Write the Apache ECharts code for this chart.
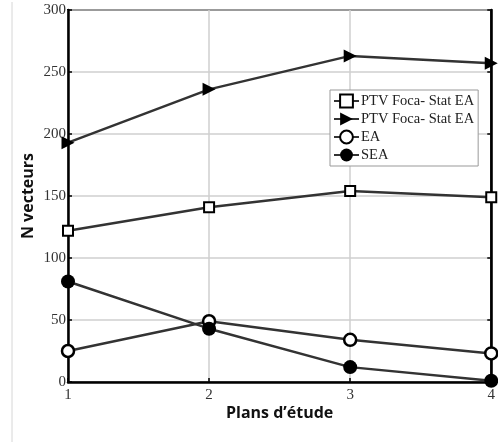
<!DOCTYPE html>
<html>
<head>
<meta charset="utf-8">
<script src="https://cdn.jsdelivr.net/npm/echarts@6/dist/echarts.min.js"></script>
<style>html,body{margin:0;padding:0;background:#fff;}#c{width:498px;height:442px;}</style>
</head>
<body>
<div id="c"></div>
<script>
const plans = [1, 2, 3, 4];
const ptvSquare = [122, 141, 154, 149];
const ptvTriangle = [193, 236, 263, 257];
const eaValues = [25, 49, 34, 23];
const seaValues = [81, 43, 12, 1];
const seriesNames = ['PTV Foca- Stat EA', 'PTV Foca- Stat EA ', 'EA', 'SEA'];
const yTicks = [0, 50, 100, 150, 200, 250, 300];

const serif = '"Liberation Serif", "Times New Roman", serif';
const toPairs = arr => plans.map((x, i) => [x, arr[i]]);
const lineStyle = { color: '#333', width: 2.5 };

const chart = echarts.init(document.getElementById('c'), null, { renderer: 'canvas' });
chart.setOption({
  animation: false,
  backgroundColor: '#fff',
  graphic: [{
    type: 'line', shape: { x1: 12, y1: 2, x2: 12, y2: 442 },
    style: { stroke: '#d6d6d6', lineWidth: 1 }, z: -1
  }],
  grid: { left: 68, top: 10, right: 3, bottom: 60, show: true, borderColor: '#000', borderWidth: 2 },
  legend: {
    orient: 'vertical', left: 330, top: 90, width: 148,
    padding: [3, 4, 3, 3], itemGap: 2, itemWidth: 25, itemHeight: 16,
    backgroundColor: '#fff', borderColor: '#999', borderWidth: 1,
    textStyle: { fontFamily: serif, fontSize: 14.5, lineHeight: 16, color: '#222', padding: [0, 0, 0, -3] },
    formatter: n => n.trim(),
    data: seriesNames
  },
  xAxis: [{
    type: 'value', min: 1, max: 4, interval: 1,
    name: 'Plans d\u2019étude', nameLocation: 'middle', nameGap: 23, nameMoveOverlap: false,
    nameTextStyle: { fontFamily: '"Open Sans", sans-serif', fontWeight: 'bold', fontSize: 16, color: '#111' },
    axisLine: { show: true, lineStyle: { color: '#000', width: 2.5 } },
    axisTick: { show: true, inside: true, length: 4, lineStyle: { color: '#000', width: 1.5 } },
    axisLabel: { fontFamily: serif, fontSize: 15, color: '#333', margin: 6 },
    splitLine: { show: true, lineStyle: { color: '#cfcfcf', width: 1.5 } }
  }],
  yAxis: [{
    type: 'value', min: 0, max: 300, interval: 50,
    name: 'N vecteurs', nameLocation: 'middle', nameGap: 32, nameMoveOverlap: false,
    nameTextStyle: { fontFamily: '"Open Sans", sans-serif', fontWeight: 'bold', fontSize: 16, color: '#111' },
    axisLine: { show: true, lineStyle: { color: '#000', width: 2.5 } },
    axisTick: { show: true, inside: true, length: 4, lineStyle: { color: '#000', width: 1.5 } },
    axisLabel: { fontFamily: serif, fontSize: 15, color: '#333', margin: 2,
      formatter: v => yTicks.includes(v) ? String(v) : '' },
    splitLine: { show: true, lineStyle: { color: '#cfcfcf', width: 1.5 } }
  }, {
    type: 'value', min: 0, max: 300, interval: 50, position: 'right',
    axisLine: { show: true, lineStyle: { color: '#000', width: 2.5 } },
    axisTick: { show: true, inside: true, length: 4, lineStyle: { color: '#000', width: 1.5 } },
    axisLabel: { show: false }, splitLine: { show: false }
  }],
  series: [{
    name: seriesNames[0], type: 'line', data: toPairs(ptvSquare),
    symbol: 'rect', symbolSize: 10, lineStyle,
    itemStyle: { color: '#fff', borderColor: '#000', borderWidth: 2 }
  }, {
    name: seriesNames[1], type: 'line', data: toPairs(ptvTriangle),
    symbol: 'path://M0,0 L12,6 L0,12 Z', symbolSize: [13, 13], lineStyle,
    itemStyle: { color: '#000', borderColor: '#000', borderWidth: 0 }
  }, {
    name: seriesNames[2], type: 'line', data: toPairs(eaValues),
    symbol: 'circle', symbolSize: 12, lineStyle,
    itemStyle: { color: '#fff', borderColor: '#000', borderWidth: 2.5 }
  }, {
    name: seriesNames[3], type: 'line', data: toPairs(seaValues),
    symbol: 'circle', symbolSize: 14, lineStyle,
    itemStyle: { color: '#000', borderColor: '#000', borderWidth: 0 }
  }]
});
</script>
</body>
</html>
